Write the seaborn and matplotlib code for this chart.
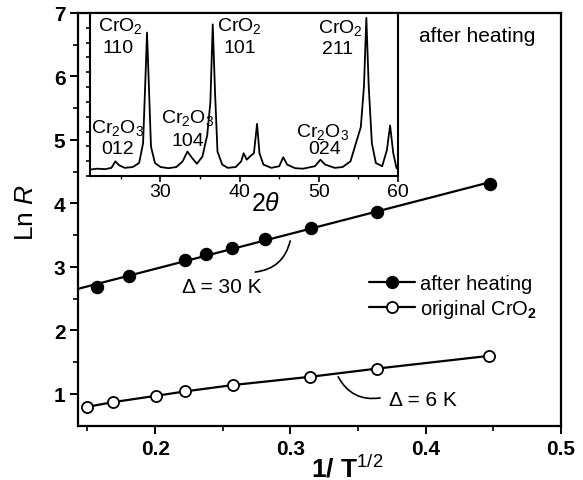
import numpy as np
import pandas as pd
import matplotlib
matplotlib.use("Agg")
import matplotlib.pyplot as plt
from matplotlib.lines import Line2D
import seaborn as sns

# ---- data ----
heat_x = [0.157, 0.181, 0.222, 0.2375, 0.2567, 0.2813, 0.315, 0.364, 0.4476]
heat_y = [2.68, 2.86, 3.11, 3.20, 3.30, 3.44, 3.61, 3.87, 4.31]
orig_x = [0.1494, 0.1687, 0.2005, 0.2222, 0.2574, 0.3146, 0.3643, 0.4469]
orig_y = [0.795, 0.87, 0.97, 1.04, 1.14, 1.27, 1.40, 1.60]

xrd_2theta = [21.2, 22.0, 23.0, 23.8, 24.3, 24.8, 25.5, 26.5, 27.3, 27.8, 28.1, 28.3,
              28.5, 28.8, 29.3, 30.0, 31.0, 32.0, 32.8, 33.4, 34.0, 34.6, 35.3, 35.9,
              36.3, 36.6, 36.9, 37.2, 37.8, 38.5, 39.5, 40.2, 40.5, 40.9, 41.3, 41.8,
              42.2, 42.5, 43.0, 44.0, 45.0, 45.5, 46.0, 47.0, 48.0, 49.5, 50.2, 50.8,
              52.0, 53.0, 54.0, 54.8, 55.3, 55.7, 56.0, 56.3, 56.7, 57.2, 58.0, 58.6,
              59.0, 59.4, 59.8, 60.0]
xrd_int = [4.0, 4.5, 4.2, 5.0, 9.0, 6.5, 5.0, 5.5, 8.0, 20, 60, 88,
           60, 18, 8.0, 5.5, 4.8, 5.5, 9.0, 15, 11, 7.5, 12, 25,
           45, 93, 50, 15, 7.0, 5.0, 5.5, 9.0, 14, 10, 12, 14,
           32, 14, 7.0, 5.0, 6.0, 11.5, 7.0, 4.8, 4.5, 6.0, 10, 7.0,
           5.0, 5.5, 9.0, 22, 30, 55, 97, 55, 20, 8.0, 6.0, 16,
           31, 14, 5.0, 4.0]

peak_labels = [r"CrO$_2$", "110", r"CrO$_2$", "101", r"CrO$_2$", "211",
               r"Cr$_2$O$_3$", "012", r"Cr$_2$O$_3$", "104", r"Cr$_2$O$_3$", "024"]
peak_label_x = [24.9, 24.6, 40.0, 40.0, 52.7, 52.4, 24.6, 24.6, 33.4, 33.4, 50.5, 50.7]
peak_label_y = [92.5, 79, 92.5, 79, 91.4, 78, 30, 16.6, 36, 21.5, 27.6, 16.6]

main_xticks = [0.2, 0.3, 0.4, 0.5]
main_yticks = [1, 2, 3, 4, 5, 6, 7]
inset_xticks = [30, 40, 50, 60]

# ---- style ----
sns.set_style("ticks", {"axes.edgecolor": "black", "text.color": "black",
                        "xtick.color": "black", "ytick.color": "black",
                        "axes.labelcolor": "black"})
plt.rcParams["font.family"] = ["Liberation Sans", "DejaVu Sans"]
plt.rcParams["mathtext.fontset"] = "custom"
plt.rcParams["mathtext.rm"] = "Liberation Sans"
plt.rcParams["mathtext.it"] = "Liberation Sans:italic"
plt.rcParams["mathtext.bf"] = "Liberation Sans:bold"

fig = plt.figure(figsize=(5.83, 4.81), dpi=100)
ax = fig.add_axes([0.1338, 0.1116, 0.8285, 0.8593])

heat_df = pd.DataFrame({"x": heat_x, "y": heat_y})
orig_df = pd.DataFrame({"x": orig_x, "y": orig_y})

xlim = (0.143, 0.5)
coef = np.polyfit(heat_x, heat_y, 1)
fit_x = np.array([xlim[0], max(heat_x)])
fit_df = pd.DataFrame({"x": fit_x, "y": np.polyval(coef, fit_x)})
sns.lineplot(data=fit_df, x="x", y="y", ax=ax, color="black", lw=1.6, zorder=2)
sns.scatterplot(data=heat_df, x="x", y="y", ax=ax, color="black", s=75,
                edgecolor="black", linewidth=1, zorder=3)
sns.lineplot(data=orig_df, x="x", y="y", ax=ax, color="black", lw=1.6, zorder=2,
             marker="o", markersize=8, markerfacecolor="white",
             markeredgecolor="black", markeredgewidth=1.3)

ax.set_xlim(*xlim)
ax.set_ylim(0.49, 7)
ax.set_xticks(main_xticks)
ax.set_xticklabels([f"{v:.1f}" for v in main_xticks])
ax.set_yticks(main_yticks)
ax.set_xticks(np.arange(0.15, 0.5, 0.1), minor=True)
ax.set_yticks(np.arange(1.5, 7, 1.0), minor=True)
ax.tick_params(which="major", direction="out", length=6, width=1.4, labelsize=15, pad=3)
ax.tick_params(which="minor", direction="out", length=3.5, width=1.2)
for lab in ax.get_xticklabels() + ax.get_yticklabels():
    lab.set_fontweight("bold")
for sp in ax.spines.values():
    sp.set_linewidth(1.6)
ax.set_xlabel(r"1/ T$^{1/2}$", fontsize=19, fontweight="bold")
ax.xaxis.set_label_coords(0.557, -0.067)
ax.set_ylabel(r"Ln $\it{R}$", fontsize=19)
ax.yaxis.set_label_coords(-0.082, 0.52)

handles = [Line2D([], [], color="black", lw=1.6, marker="o", markersize=8.5,
                  markerfacecolor="black", markeredgecolor="black"),
           Line2D([], [], color="black", lw=1.6, marker="o", markersize=8,
                  markerfacecolor="white", markeredgecolor="black", markeredgewidth=1.3)]
ax.legend(handles, ["after heating", r"original CrO$_\mathbf{2}$"], loc="center left",
          bbox_to_anchor=(0.585, 0.312), frameon=False, fontsize=14.5,
          handlelength=2.3, handletextpad=0.25, labelspacing=0.2, borderaxespad=0)

ax.annotate("", xy=(0.2998, 3.41), xytext=(0.274, 2.92),
            arrowprops=dict(arrowstyle="-", color="black", lw=1.2,
                            connectionstyle="arc3,rad=0.35", shrinkA=0, shrinkB=0))
ax.text(0.2495, 2.685, "Δ = 30 K", ha="center", va="center", fontsize=15)
ax.annotate("", xy=(0.3663, 0.937), xytext=(0.3353, 1.27),
            arrowprops=dict(arrowstyle="-", color="black", lw=1.2,
                            connectionstyle="arc3,rad=0.35", shrinkA=0, shrinkB=0))
ax.text(0.373, 0.915, "Δ = 6 K", ha="left", va="center", fontsize=15)

ax.text(0.946, 0.968, "after heating", transform=ax.transAxes, ha="right", va="top",
        fontsize=15)

# ---- inset XRD ----
axi = fig.add_axes([0.1544, 0.632, 0.5283, 0.3389])
xrd_df = pd.DataFrame({"t": xrd_2theta, "i": xrd_int})
sns.lineplot(data=xrd_df, x="t", y="i", ax=axi, color="black", lw=1.3)
axi.set_xlim(21.1, 60)
axi.set_ylim(0, 100)
axi.set_xticks(inset_xticks)
axi.set_xticks([25, 35, 45, 55], minor=True)
axi.set_yticks(np.linspace(0, 100, 12))
axi.set_yticklabels([])
axi.tick_params(which="major", direction="out", length=4, width=1.2, labelsize=14, pad=1)
axi.tick_params(which="minor", direction="out", length=2.5, width=1.0)
axi.tick_params(axis="y", length=3)
for sp in axi.spines.values():
    sp.set_linewidth(1.5)
axi.set_xlabel(r"2$\it{\theta}$", fontsize=18)
axi.xaxis.set_label_coords(0.571, -0.09)
axi.set_ylabel("")
for t, x, y in zip(peak_labels, peak_label_x, peak_label_y):
    axi.text(x, y, t, ha="center", va="center", fontsize=14)

fig.savefig("out.png", dpi=100, facecolor="white")
